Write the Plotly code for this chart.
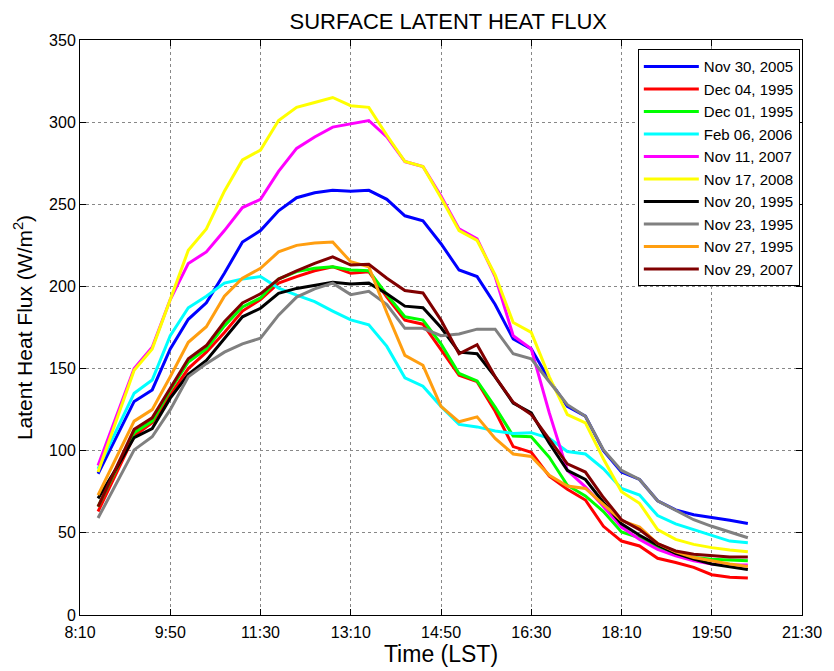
import plotly.graph_objects as go

# time in minutes since midnight: 8:30 ... 20:30 every 20 min
times_min = [510 + 20 * k for k in range(37)]

series_names = ["Nov 30, 2005", "Dec 04, 1995", "Dec 01, 1995", "Feb 06, 2006", "Nov 11, 2007",
                "Nov 17, 2008", "Nov 20, 1995", "Nov 23, 1995", "Nov 27, 1995", "Nov 29, 2007"]
series_colors = ["#0000FF", "#FF0000", "#00FF00", "#00FFFF", "#FF00FF",
                 "#FFFF00", "#000000", "#808080", "#FF9E10", "#800000"]

nov30_2005 = [86, 108, 130, 137, 162, 180, 190, 208, 227, 234, 246, 254, 257, 258.5, 258, 258.5, 253, 243, 240,
              226, 210, 206, 189, 168, 162, 143, 127, 121, 100, 87, 82.5, 69.5, 64, 61, 59.5, 57.7, 55.7]
dec04_1995 = [63, 86, 109, 117, 134, 150, 160, 172, 185, 192, 202, 206, 209.5, 212, 208, 209, 193.5, 179.5, 177,
              161.5, 146, 142, 124, 102.5, 99, 84.5, 76.5, 70, 54, 45, 42, 34.5, 32, 29, 24.5, 23, 22.5]
dec01_1995 = [66, 88.5, 111, 118, 137, 154, 162, 176, 187.5, 193, 204.5, 209, 211, 212, 210, 209.5, 195, 181.5, 179.5,
              165, 147, 142.5, 126.5, 109, 108.5, 96, 79, 72.5, 63, 50.5, 47, 41, 37, 35, 34, 33.5, 33]
feb06_2006 = [89, 112, 135, 143, 170, 187, 194, 202, 204.5, 206, 199, 194.7, 190.7, 185, 179.6, 176.6, 163.5, 144.4, 139.3,
              127, 116, 114.5, 112, 110.5, 111, 107.5, 99.5, 98, 89, 77, 73, 60.5, 55.5, 52, 48.5, 45, 44]
nov11_2007 = [91, 121, 150, 163, 192, 214, 221, 234, 248, 253, 270, 284, 291, 297, 299, 301, 291, 276, 273,
              255, 235, 229, 206, 170, 162, 123, 88, 78, 66, 53.5, 46, 40, 36, 33, 31, 30.5, 30.5]
nov17_2008 = [87, 118, 149, 162, 192, 222, 235, 258, 277, 283, 301, 309, 312, 315, 310, 309, 292, 276, 273,
              254, 234, 228, 207, 178, 172, 145, 122, 117, 95, 75, 68, 52, 46, 43, 41, 39.5, 38.5]
nov20_1995 = [71, 89, 108, 113.5, 132, 146.5, 155, 168, 181.5, 186.7, 195.8, 198.8, 200.5, 202.5, 201.5, 202, 195.5, 188, 187,
              175, 160, 159, 145, 129, 123, 104.5, 88, 82.5, 68.5, 55.5, 48.5, 42.5, 37.5, 34, 31, 29.5, 27.7]
nov23_1995 = [59, 80, 100.5, 108.5, 125, 145, 153, 160, 165, 168.5, 182.5, 193.5, 198.5, 202, 195, 197, 189, 174.5, 174.5,
              170, 171, 174, 174, 159, 156, 142, 128, 121, 100.5, 88, 82.5, 69.5, 64, 58, 54, 50.5, 47]
nov27_1995 = [73, 96, 118, 125, 145, 166, 175.5, 194, 205, 211, 221, 225, 226.5, 227, 215, 212, 184, 158, 152,
              127, 117.6, 120.6, 107.5, 98, 96.5, 85, 78.5, 77, 67, 57.5, 53.5, 43.5, 38.5, 35, 33, 31, 29.5]
nov29_2007 = [66, 90, 113, 120, 138, 156, 164, 178.5, 190, 195.5, 204.5, 209.5, 214, 218, 213, 213.5, 205, 197.5, 196,
              179.5, 159, 164.5, 145, 129.5, 122, 107, 92, 87, 71.5, 58, 52, 43.5, 39, 37, 36, 35.3, 35.3]

series_values = [nov30_2005, dec04_1995, dec01_1995, feb06_2006, nov11_2007,
                 nov17_2008, nov20_1995, nov23_1995, nov27_1995, nov29_2007]

tick_vals = [490, 590, 690, 790, 890, 990, 1090, 1190, 1290]
tick_text = ["8:10", "9:50", "11:30", "13:10", "14:50", "16:30", "18:10", "19:50", "21:30"]
y_ticks = [0, 50, 100, 150, 200, 250, 300, 350]

fig = go.Figure()
for name, color, vals in zip(series_names, series_colors, series_values):
    fig.add_trace(go.Scatter(x=times_min, y=vals, mode="lines", name=name,
                             line=dict(color=color, width=3)))

font_family = "Liberation Sans, Arial, sans-serif"
# page body has an 8px margin, so the figure is 8px smaller and margins shifted
fig.update_layout(
    width=826, height=663,
    margin=dict(l=72, r=24, t=32, b=56),
    paper_bgcolor="white", plot_bgcolor="white",
    font=dict(family=font_family, color="black"),
    title=dict(text="SURFACE LATENT HEAT FLUX", x=0.533, xanchor="center",
               y=1 - 13 / 663, yanchor="middle", yref="container",
               font=dict(size=22, family=font_family, color="black")),
    legend=dict(x=0.997, y=0.984, xanchor="right", yanchor="top",
                bgcolor="white", bordercolor="black", borderwidth=1,
                font=dict(size=15, family=font_family), itemwidth=55,
                tracegroupgap=0),
    showlegend=True,
)
fig.update_xaxes(range=[490, 1290], tickvals=tick_vals, ticktext=tick_text,
                 ticks="inside", ticklen=6, tickcolor="black", showline=True, linecolor="black",
                 linewidth=1, mirror="ticks", showgrid=True, gridcolor="#888888",
                 griddash="dot", gridwidth=1, zeroline=False, ticklabelstandoff=3,
                 tickfont=dict(size=16), title=dict(text="Time (LST)", font=dict(size=23), standoff=2))
fig.update_yaxes(range=[0, 350], tickvals=y_ticks,
                 ticks="inside", ticklen=6, tickcolor="black", showline=True, linecolor="black",
                 linewidth=1, mirror="ticks", showgrid=True, gridcolor="#888888",
                 griddash="dot", gridwidth=1, zeroline=False,
                 tickfont=dict(size=16),
                 title=dict(text="Latent Heat Flux (W/m<sup>2</sup>)", font=dict(size=21), standoff=10))

fig.write_html("out.html")
